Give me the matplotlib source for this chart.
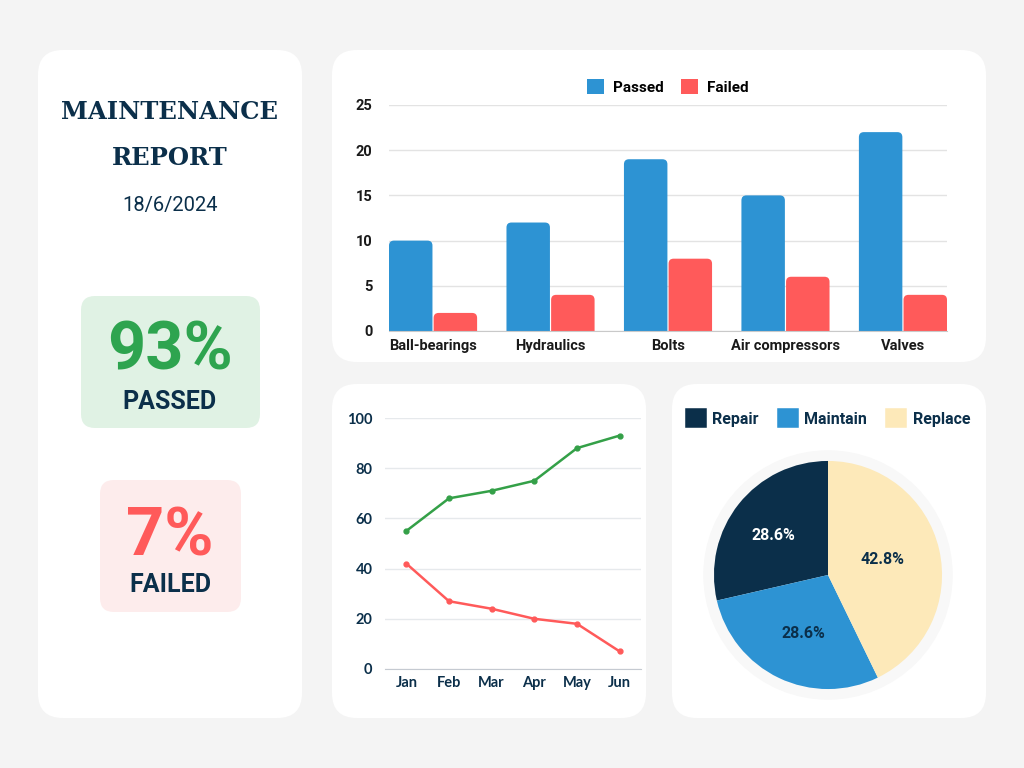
import matplotlib
matplotlib.use("Agg")
import matplotlib.pyplot as plt
from matplotlib.patches import FancyBboxPatch, Patch, Circle
from matplotlib import font_manager
import numpy as np

# =============================
# Dados
# =============================
report_title = ["MAINTENANCE", "REPORT"]
report_date = "18/6/2024"
pass_rate = "93%"
fail_rate = "7%"

parts = ["Ball-bearings", "Hydraulics", "Bolts", "Air compressors", "Valves"]
parts_passed = [10, 12, 19, 15, 22]
parts_failed = [2, 4, 8, 6, 4]

months = ["Jan", "Feb", "Mar", "Apr", "May", "Jun"]
monthly_passed = [55, 68, 71, 75, 88, 93]
monthly_failed = [42, 27, 24, 20, 18, 7]

actions = ["Repair", "Maintain", "Replace"]
action_share = [28.6, 28.6, 42.8]

# =============================
# Estilo
# =============================
W, H = 1024, 768
NAVY = "#0b2f4a"
BLUE = "#2d93d3"
RED = "#ff5a5a"
GREEN = "#2ea44f"
CREAM = "#fde9b9"
BG = "#f4f4f4"

nomes = {f.name for f in font_manager.fontManager.ttflist}
narrow = "Liberation Sans Narrow" if "Liberation Sans Narrow" in nomes else "Roboto"
sans = "Roboto" if "Roboto" in nomes else "DejaVu Sans"
serif = "DejaVu Serif"


def px_axes(fig, l, t, r, b):
    return fig.add_axes([l / W, 1 - b / H, (r - l) / W, (b - t) / H])


def arredonda_barras(ax, barras, r_px, px_x, px_y):
    """Troca os retângulos por caixas com cantos superiores arredondados."""
    r = r_px / px_x
    aspecto = (r_px / px_y) / r
    extra = 2 * r_px / px_y
    for rect in barras:
        x0, w, h = rect.get_x(), rect.get_width(), rect.get_height()
        cor = rect.get_facecolor()
        rect.remove()
        ax.add_patch(FancyBboxPatch((x0, -extra), w, h + extra,
                                    boxstyle=f"round,pad=0,rounding_size={r}",
                                    mutation_aspect=aspecto, facecolor=cor,
                                    edgecolor="none", zorder=3, clip_on=True))


fig = plt.figure(figsize=(W / 100, H / 100), dpi=100, facecolor=BG)

# fundo com os cartões
bg = fig.add_axes([0, 0, 1, 1])
bg.set_xlim(0, W)
bg.set_ylim(H, 0)
bg.axis("off")
bg.set_facecolor(BG)


def card(ax, l, t, r, b, color="white", rad=25):
    ax.add_patch(FancyBboxPatch((l, t), r - l, b - t,
                                boxstyle=f"round,pad=0,rounding_size={rad}",
                                facecolor=color, edgecolor="none"))


card(bg, 38, 50, 302, 718)
card(bg, 332, 50, 986, 362)
card(bg, 332, 384, 646, 718)
card(bg, 672, 384, 986, 718)
card(bg, 81, 296, 260, 428, "#e0f2e4", 14)
card(bg, 100, 480, 241, 612, "#fdecec", 14)

bg.text(170, 112, report_title[0], ha="center", va="center", color=NAVY,
        fontsize=17.5, fontweight="bold", family=serif)
bg.text(170, 158, report_title[1], ha="center", va="center", color=NAVY,
        fontsize=17.5, fontweight="bold", family=serif)
bg.text(170, 205, report_date, ha="center", va="center", color=NAVY,
        fontsize=14.5, family=sans)

bg.text(170, 352, pass_rate, ha="center", va="center", color=GREEN,
        fontsize=48, fontweight="bold", family=sans)
bg.text(170, 402, "PASSED", ha="center", va="center", color=NAVY,
        fontsize=18, fontweight="bold", family=sans)
bg.text(170, 537, fail_rate, ha="center", va="center", color=RED,
        fontsize=48, fontweight="bold", family=sans)
bg.text(170, 585, "FAILED", ha="center", va="center", color=NAVY,
        fontsize=18, fontweight="bold", family=sans)

# =============================
# Barras: peças aprovadas / reprovadas
# =============================
ax1 = px_axes(fig, 389, 105, 947, 331)
x = np.arange(len(parts))
bw = 0.37
b1 = ax1.bar(x - 0.19, parts_passed, bw, color=BLUE, label="Passed", zorder=3)
b2 = ax1.bar(x + 0.19, parts_failed, bw, color=RED, label="Failed", zorder=3)
ax1.set_xlim(-0.375, len(parts) - 1 + 0.375)
ax1.set_ylim(0, 25)
ax1.set_yticks([0, 5, 10, 15, 20, 25])
ax1.set_xticks(x)
ax1.set_xticklabels(parts)
ax1.grid(axis="y", color="#e3e3e3", linewidth=1, zorder=0)
for s in ["top", "right", "left"]:
    ax1.spines[s].set_visible(False)
ax1.spines["bottom"].set_color("#c9c9c9")
ax1.spines["bottom"].set_zorder(4)
ax1.tick_params(length=0, pad=6, labelsize=10.5, labelcolor="#1a1a1a")
ax1.tick_params(axis="y", pad=12)
for lab in ax1.get_xticklabels() + ax1.get_yticklabels():
    lab.set_fontweight("bold")
    lab.set_family(narrow)
ax1.set_facecolor("white")
leg = ax1.legend(loc="lower center", bbox_to_anchor=(0.5, 0.985), ncol=2,
                 frameon=False, handlelength=1.1, handleheight=1.1,
                 columnspacing=1.1, handletextpad=0.6,
                 prop={"family": narrow, "weight": "bold", "size": 11})
arredonda_barras(ax1, list(b1) + list(b2), 5, 117.4, 9.04)

# =============================
# Linhas: evolução mensal
# =============================
ax2 = px_axes(fig, 385, 418, 641, 669)
m = np.arange(len(months))
ax2.plot(m, monthly_passed, color="#34a048", linewidth=1.8, marker="o",
         markersize=3.5, zorder=3)
ax2.plot(m, monthly_failed, color=RED, linewidth=1.8, marker="o",
         markersize=3.5, zorder=3)
ax2.set_xlim(-0.5, 5.5)
ax2.set_ylim(0, 100)
ax2.set_yticks([0, 20, 40, 60, 80, 100])
ax2.set_xticks(m)
ax2.set_xticklabels(months)
ax2.grid(axis="y", color="#e6e9ec", linewidth=1, zorder=0)
for s in ["top", "right", "left"]:
    ax2.spines[s].set_visible(False)
ax2.spines["bottom"].set_color("#c5cad1")
ax2.tick_params(length=0, labelsize=10.5, labelcolor=NAVY)
ax2.tick_params(axis="x", pad=5)
ax2.tick_params(axis="y", pad=9)
for lab in ax2.get_xticklabels() + ax2.get_yticklabels():
    lab.set_fontweight("bold")
    lab.set_family("Lato")
ax2.set_facecolor("white")

# =============================
# Pizza: ações
# =============================
ax3 = px_axes(fig, 828 - 130, 575 - 130, 828 + 130, 575 + 130)
ax3.axis("off")
ax3.add_patch(Circle((0, 0), 1.088, color="#f8f8f8", zorder=0))
pie_colors = [NAVY, BLUE, CREAM]
wedges, _, autotexts = ax3.pie(action_share, colors=pie_colors, startangle=90,
                               autopct="%.1f%%", pctdistance=0.56,
                               wedgeprops={"linewidth": 0})
label_dist = [0.59, 0.56, 0.50]
for w, t, c, d in zip(wedges, autotexts, ["white", NAVY, NAVY], label_dist):
    ang = np.deg2rad((w.theta1 + w.theta2) / 2 + 3)
    t.set_position((d * np.cos(ang), d * np.sin(ang)))
    t.set_color(c)
    t.set_fontsize(11.5)
    t.set_fontweight("bold")
    t.set_family(sans)
ax3.set_aspect("equal")
ax3.set_xlim(-1.14, 1.14)
ax3.set_ylim(-1.14, 1.14)

handles = [Patch(facecolor=c, edgecolor=c, linewidth=4, joinstyle="round",
                 label=a) for a, c in zip(actions, pie_colors)]
fig.legend(handles=handles, loc="center", bbox_to_anchor=(829 / W, 1 - 419 / H),
           ncol=3, frameon=False, handlelength=1.0, handleheight=1.0,
           columnspacing=1.3, handletextpad=0.55,
           prop={"family": sans, "weight": "bold", "size": 11.5}, labelcolor=NAVY)

fig.savefig("out.png", dpi=100, facecolor=BG)
